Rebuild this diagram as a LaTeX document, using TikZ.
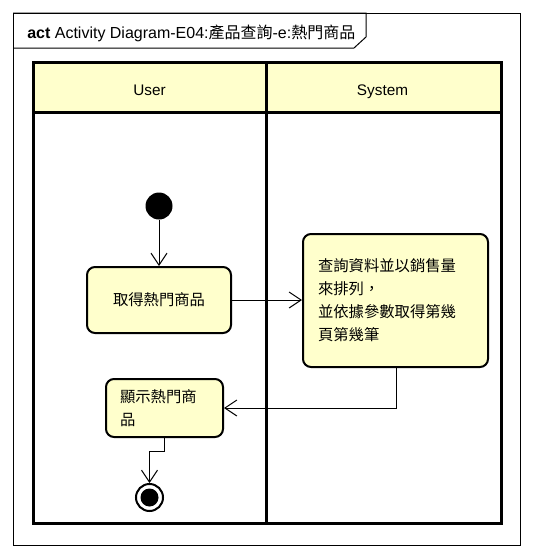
\documentclass[tikz,border=0pt]{standalone}
\usepackage{fontspec}
\setmainfont{Liberation Sans}
\newfontfamily\cjk{Noto Sans CJK TC}
\usetikzlibrary{arrows.meta}
\definecolor{umlfill}{HTML}{FFFFCC}
\begin{document}
\begin{tikzpicture}[x=0.75pt,y=-0.75pt,
  font=\fontsize{11.5}{17.25}\selectfont,
  act/.style={draw, line width=1.5pt, rounded corners=6pt, fill=umlfill, inner sep=0pt},
  flow/.style={draw, line width=0.75pt, -{Straight Barb[length=9pt,width=12pt,line width=0.75pt]}},
  lane/.style={line width=2.25pt},
  lanehead/.style={anchor=base, inner sep=0pt}]
\useasboundingbox (0,0) rectangle (533,550);
% frame
\draw[line width=0.75pt] (13,13) rectangle (520,545);
\draw[line width=0.75pt] (13,13) -- (366,13) -- (366,37) -- (354,48) -- (13,48);
\node[anchor=base west, inner sep=0pt, font=\fontsize{12}{14}\selectfont] (title) at (27,38.5) {\textbf{act} Activity Diagram-E04:{\cjk 產品查詢}-e:{\cjk 熱門商品}};
% swimlanes
\fill[umlfill] (33,62) rectangle (501,112);
\draw[lane] (33,62) rectangle (501,523);
\draw[lane] (33,112) -- (501,112);
\draw[lane] (266,62) -- (266,523);
\node[lanehead] (user) at (149.5,95) {User};
\node[lanehead] (system) at (382.5,95) {System};
% nodes
\node[circle, fill=black, inner sep=0pt, minimum size=20.25pt] (init) at (159,206) {};
\node[act, minimum width=108pt, minimum height=49.5pt] (a1) at (159,300) {\cjk 取得熱門商品};
\node[act, minimum width=138.75pt, minimum height=99.75pt, text width=116.25pt, align=left] (a2) at (395.5,300.5)
  {\cjk 查詢資料並以銷售量\\來排列，\\並依據參數取得第幾\\頁第幾筆};
\node[act, minimum width=87.75pt, minimum height=43.5pt, text width=66.75pt, align=left] (a3) at (164.5,408)
  {\cjk 顯示熱門商\\品};
\node[circle, draw, line width=1.5pt, fill=white, inner sep=0pt, minimum size=20.25pt] (final) at (149.5,497.5) {};
\fill (final.center) circle (6.75pt);
% connectors
\coordinate (bend) at (164.5,451);
\draw[flow] (init) -- (a1);
\draw[flow] (a1.east) -- (a1.east -| a2.west);
\draw[flow] ([xshift=1.1pt]a2.south) |- (a3.east);
\draw[flow] (a3.south) -- (bend) -| (final.north);
\end{tikzpicture}
\end{document}
